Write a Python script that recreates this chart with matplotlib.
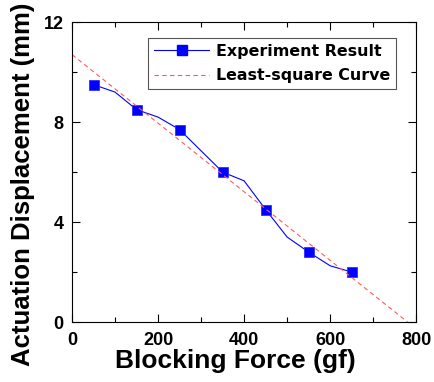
import numpy as np
import matplotlib
matplotlib.use("Agg")
import matplotlib.pyplot as plt
from matplotlib.ticker import MultipleLocator

plt.rcParams['font.family'] = ['Liberation Sans', 'DejaVu Sans']

# measured points (markers) and the line through them (every 50 gf)
force = [50, 150, 250, 350, 450, 550, 650]
disp = [9.5, 8.5, 7.7, 6.0, 4.5, 2.8, 2.0]
line_force = [50, 100, 150, 200, 250, 300, 350, 400, 450, 500, 550, 600, 650]
line_disp = [9.5, 9.2, 8.5, 8.2, 7.7, 6.85, 6.0, 5.65, 4.5, 3.4, 2.8, 2.25, 2.0]

# least-square line
fit_force = [0, 780]
fit_disp = [10.7, 0.0]

fig = plt.figure(figsize=(4.34, 3.82), dpi=100)
ax = fig.add_axes([0.166, 0.157, 0.793, 0.785])

ax.plot(line_force, line_disp, color='blue', lw=0.8, label='_nolegend_')
ax.plot(force, disp, ls='none', marker='s', ms=6.5, color='blue',
        markeredgecolor='#3030ff', markeredgewidth=0.6, label='_nolegend_')
# legend proxy
ax.plot([], [], color='blue', lw=0.8, marker='s', ms=6.5, label='Experiment Result')
ax.plot(fit_force, fit_disp, color='#ff5a5a', lw=0.8, ls=(0, (4, 3)),
        label='Least-square Curve')

ax.set_xlim(0, 800)
ax.set_ylim(0, 12)
ax.xaxis.set_major_locator(MultipleLocator(200))
ax.xaxis.set_minor_locator(MultipleLocator(100))
ax.yaxis.set_major_locator(MultipleLocator(4))
ax.yaxis.set_minor_locator(MultipleLocator(2))
ax.tick_params(which='both', direction='in', top=True, right=True,
               width=0.8, labelsize=13)
ax.tick_params(which='major', length=6)
ax.tick_params(which='minor', length=3.5)
ax.tick_params(axis='x', pad=7)
ax.tick_params(axis='y', pad=6)
for lab in ax.get_xticklabels() + ax.get_yticklabels():
    lab.set_fontweight('bold')

ax.set_xlabel('Blocking Force (gf)', fontsize=19, fontweight='bold')
ax.xaxis.set_label_coords(0.474, -0.09)
ax.set_ylabel('Actuation Displacement (mm)', fontsize=18.5, fontweight='bold')
ax.yaxis.set_label_coords(-0.108, 0.46)

leg = ax.legend(loc='upper right', bbox_to_anchor=(0.942, 0.947), borderaxespad=0,
                fancybox=False, edgecolor='#555555', framealpha=1,
                handlelength=3.5, handletextpad=0.45,
                prop={'family': 'DejaVu Sans', 'weight': 'bold', 'size': 11.4},
                borderpad=0.35, labelspacing=0.6)
leg.get_frame().set_linewidth(0.8)

fig.savefig('out.png', dpi=100)
